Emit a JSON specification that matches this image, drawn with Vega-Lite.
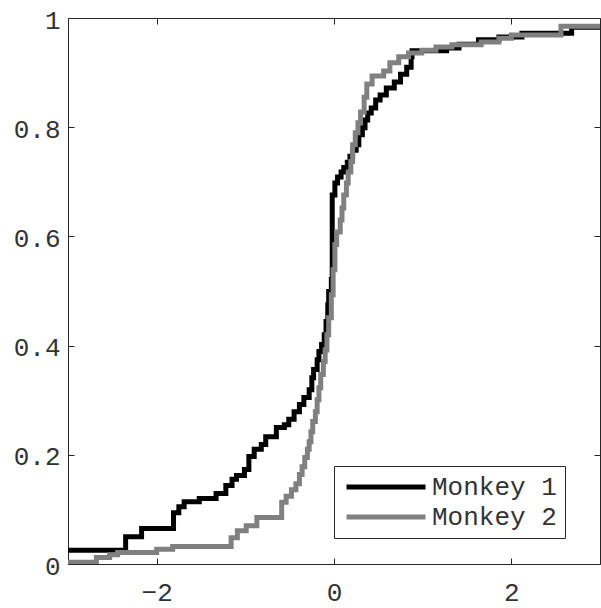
{
  "$schema": "https://vega.github.io/schema/vega-lite/v6.json",
  "width": 532,
  "height": 546,
  "autosize": {"type": "none"},
  "padding": {"left": 68, "top": 18, "right": 1, "bottom": 44},
  "background": "white",
  "config": {
    "view": {"stroke": null},
    "axis": {
      "grid": false,
      "domainColor": "#262626",
      "tickColor": "#262626",
      "tickSize": -6,
      "labelFont": "Liberation Mono",
      "labelFontSize": 26,
      "labelColor": "#333333",
      "title": null
    }
  },
  "data": {
    "values": [
      {"monkey": "Monkey 1", "x": -3.0, "y": 0.025},
      {"monkey": "Monkey 1", "x": -2.35, "y": 0.050},
      {"monkey": "Monkey 1", "x": -2.17, "y": 0.065},
      {"monkey": "Monkey 1", "x": -1.81, "y": 0.094},
      {"monkey": "Monkey 1", "x": -1.75, "y": 0.105},
      {"monkey": "Monkey 1", "x": -1.69, "y": 0.114},
      {"monkey": "Monkey 1", "x": -1.52, "y": 0.120},
      {"monkey": "Monkey 1", "x": -1.33, "y": 0.129},
      {"monkey": "Monkey 1", "x": -1.22, "y": 0.144},
      {"monkey": "Monkey 1", "x": -1.15, "y": 0.155},
      {"monkey": "Monkey 1", "x": -1.10, "y": 0.162},
      {"monkey": "Monkey 1", "x": -1.01, "y": 0.173},
      {"monkey": "Monkey 1", "x": -0.96, "y": 0.197},
      {"monkey": "Monkey 1", "x": -0.90, "y": 0.210},
      {"monkey": "Monkey 1", "x": -0.82, "y": 0.219},
      {"monkey": "Monkey 1", "x": -0.77, "y": 0.233},
      {"monkey": "Monkey 1", "x": -0.65, "y": 0.250},
      {"monkey": "Monkey 1", "x": -0.56, "y": 0.255},
      {"monkey": "Monkey 1", "x": -0.51, "y": 0.265},
      {"monkey": "Monkey 1", "x": -0.45, "y": 0.279},
      {"monkey": "Monkey 1", "x": -0.39, "y": 0.292},
      {"monkey": "Monkey 1", "x": -0.34, "y": 0.305},
      {"monkey": "Monkey 1", "x": -0.28, "y": 0.319},
      {"monkey": "Monkey 1", "x": -0.25, "y": 0.341},
      {"monkey": "Monkey 1", "x": -0.23, "y": 0.356},
      {"monkey": "Monkey 1", "x": -0.19, "y": 0.374},
      {"monkey": "Monkey 1", "x": -0.17, "y": 0.389},
      {"monkey": "Monkey 1", "x": -0.14, "y": 0.402},
      {"monkey": "Monkey 1", "x": -0.11, "y": 0.420},
      {"monkey": "Monkey 1", "x": -0.09, "y": 0.444},
      {"monkey": "Monkey 1", "x": -0.07, "y": 0.475},
      {"monkey": "Monkey 1", "x": -0.06, "y": 0.499},
      {"monkey": "Monkey 1", "x": -0.03, "y": 0.521},
      {"monkey": "Monkey 1", "x": -0.02, "y": 0.676},
      {"monkey": "Monkey 1", "x": 0.01, "y": 0.698},
      {"monkey": "Monkey 1", "x": 0.04, "y": 0.709},
      {"monkey": "Monkey 1", "x": 0.08, "y": 0.718},
      {"monkey": "Monkey 1", "x": 0.11, "y": 0.726},
      {"monkey": "Monkey 1", "x": 0.15, "y": 0.736},
      {"monkey": "Monkey 1", "x": 0.18, "y": 0.747},
      {"monkey": "Monkey 1", "x": 0.21, "y": 0.758},
      {"monkey": "Monkey 1", "x": 0.25, "y": 0.768},
      {"monkey": "Monkey 1", "x": 0.28, "y": 0.786},
      {"monkey": "Monkey 1", "x": 0.32, "y": 0.799},
      {"monkey": "Monkey 1", "x": 0.35, "y": 0.813},
      {"monkey": "Monkey 1", "x": 0.38, "y": 0.826},
      {"monkey": "Monkey 1", "x": 0.42, "y": 0.835},
      {"monkey": "Monkey 1", "x": 0.47, "y": 0.850},
      {"monkey": "Monkey 1", "x": 0.52, "y": 0.859},
      {"monkey": "Monkey 1", "x": 0.59, "y": 0.872},
      {"monkey": "Monkey 1", "x": 0.68, "y": 0.883},
      {"monkey": "Monkey 1", "x": 0.75, "y": 0.897},
      {"monkey": "Monkey 1", "x": 0.82, "y": 0.910},
      {"monkey": "Monkey 1", "x": 0.87, "y": 0.929},
      {"monkey": "Monkey 1", "x": 0.88, "y": 0.940},
      {"monkey": "Monkey 1", "x": 1.27, "y": 0.945},
      {"monkey": "Monkey 1", "x": 1.41, "y": 0.952},
      {"monkey": "Monkey 1", "x": 1.63, "y": 0.960},
      {"monkey": "Monkey 1", "x": 1.86, "y": 0.965},
      {"monkey": "Monkey 1", "x": 2.12, "y": 0.972},
      {"monkey": "Monkey 1", "x": 2.68, "y": 0.983},
      {"monkey": "Monkey 1", "x": 3.0, "y": 0.983},
      {"monkey": "Monkey 2", "x": -3.0, "y": 0.003},
      {"monkey": "Monkey 2", "x": -2.68, "y": 0.012},
      {"monkey": "Monkey 2", "x": -2.53, "y": 0.017},
      {"monkey": "Monkey 2", "x": -2.44, "y": 0.021},
      {"monkey": "Monkey 2", "x": -2.0, "y": 0.027},
      {"monkey": "Monkey 2", "x": -1.82, "y": 0.032},
      {"monkey": "Monkey 2", "x": -1.16, "y": 0.048},
      {"monkey": "Monkey 2", "x": -1.09, "y": 0.061},
      {"monkey": "Monkey 2", "x": -0.99, "y": 0.070},
      {"monkey": "Monkey 2", "x": -0.87, "y": 0.085},
      {"monkey": "Monkey 2", "x": -0.59, "y": 0.113},
      {"monkey": "Monkey 2", "x": -0.54, "y": 0.124},
      {"monkey": "Monkey 2", "x": -0.48, "y": 0.136},
      {"monkey": "Monkey 2", "x": -0.43, "y": 0.147},
      {"monkey": "Monkey 2", "x": -0.39, "y": 0.164},
      {"monkey": "Monkey 2", "x": -0.36, "y": 0.178},
      {"monkey": "Monkey 2", "x": -0.33, "y": 0.195},
      {"monkey": "Monkey 2", "x": -0.30, "y": 0.210},
      {"monkey": "Monkey 2", "x": -0.28, "y": 0.224},
      {"monkey": "Monkey 2", "x": -0.26, "y": 0.242},
      {"monkey": "Monkey 2", "x": -0.24, "y": 0.261},
      {"monkey": "Monkey 2", "x": -0.21, "y": 0.279},
      {"monkey": "Monkey 2", "x": -0.19, "y": 0.301},
      {"monkey": "Monkey 2", "x": -0.17, "y": 0.323},
      {"monkey": "Monkey 2", "x": -0.15, "y": 0.347},
      {"monkey": "Monkey 2", "x": -0.12, "y": 0.371},
      {"monkey": "Monkey 2", "x": -0.10, "y": 0.392},
      {"monkey": "Monkey 2", "x": -0.08, "y": 0.420},
      {"monkey": "Monkey 2", "x": -0.06, "y": 0.451},
      {"monkey": "Monkey 2", "x": -0.03, "y": 0.493},
      {"monkey": "Monkey 2", "x": -0.01, "y": 0.539},
      {"monkey": "Monkey 2", "x": 0.01, "y": 0.585},
      {"monkey": "Monkey 2", "x": 0.03, "y": 0.608},
      {"monkey": "Monkey 2", "x": 0.07, "y": 0.630},
      {"monkey": "Monkey 2", "x": 0.09, "y": 0.652},
      {"monkey": "Monkey 2", "x": 0.11, "y": 0.676},
      {"monkey": "Monkey 2", "x": 0.14, "y": 0.698},
      {"monkey": "Monkey 2", "x": 0.16, "y": 0.718},
      {"monkey": "Monkey 2", "x": 0.19, "y": 0.737},
      {"monkey": "Monkey 2", "x": 0.21, "y": 0.768},
      {"monkey": "Monkey 2", "x": 0.24, "y": 0.790},
      {"monkey": "Monkey 2", "x": 0.27, "y": 0.808},
      {"monkey": "Monkey 2", "x": 0.30, "y": 0.828},
      {"monkey": "Monkey 2", "x": 0.34, "y": 0.855},
      {"monkey": "Monkey 2", "x": 0.37, "y": 0.879},
      {"monkey": "Monkey 2", "x": 0.43, "y": 0.894},
      {"monkey": "Monkey 2", "x": 0.56, "y": 0.903},
      {"monkey": "Monkey 2", "x": 0.63, "y": 0.918},
      {"monkey": "Monkey 2", "x": 0.73, "y": 0.929},
      {"monkey": "Monkey 2", "x": 0.84, "y": 0.936},
      {"monkey": "Monkey 2", "x": 0.99, "y": 0.941},
      {"monkey": "Monkey 2", "x": 1.15, "y": 0.947},
      {"monkey": "Monkey 2", "x": 1.33, "y": 0.951},
      {"monkey": "Monkey 2", "x": 1.66, "y": 0.956},
      {"monkey": "Monkey 2", "x": 1.86, "y": 0.963},
      {"monkey": "Monkey 2", "x": 2.00, "y": 0.969},
      {"monkey": "Monkey 2", "x": 2.56, "y": 0.985},
      {"monkey": "Monkey 2", "x": 3.0, "y": 0.985}
    ]
  },
  "layer": [
    {
      "mark": {"type": "line", "interpolate": "step-after", "strokeWidth": 5, "clip": true, "strokeJoin": "miter", "strokeCap": "butt"},
      "encoding": {
        "x": {"field": "x", "type": "quantitative", "scale": {"domain": [-3, 3], "nice": false, "zero": false},
          "axis": {"orient": "bottom", "values": [-2, 0, 2], "format": "~g", "labelPadding": 21}},
        "y": {"field": "y", "type": "quantitative", "scale": {"domain": [0, 1], "nice": false, "zero": false},
          "axis": {"orient": "left", "values": [0, 0.2, 0.4, 0.6, 0.8, 1], "format": "~g", "labelPadding": 14, "labelOffset": 2}},
        "color": {"field": "monkey", "type": "nominal",
          "scale": {"domain": ["Monkey 1", "Monkey 2"], "range": ["#000000", "#808080"]},
          "legend": {
            "orient": "none", "legendX": 266, "legendY": 448, "title": null,
            "strokeColor": "#262626", "fillColor": "white", "padding": 8, "rowPadding": 4,
            "symbolType": "M-4,0H4", "symbolSize": 390, "symbolStrokeWidth": 5,
            "symbolOffset": 31, "labelOffset": 33,
            "labelFont": "Liberation Mono", "labelFontSize": 26, "labelColor": "#333333"
          }}
      }
    },
    {
      "mark": {"type": "line", "opacity": 0},
      "encoding": {
        "x": {"field": "x", "type": "quantitative", "axis": {"orient": "top", "values": [-2, 0, 2], "labels": false}},
        "y": {"field": "y", "type": "quantitative", "axis": {"orient": "right", "values": [0, 0.2, 0.4, 0.6, 0.8, 1], "labels": false}},
        "detail": {"field": "monkey"}
      }
    }
  ],
  "resolve": {"axis": {"x": "independent", "y": "independent"}}
}
